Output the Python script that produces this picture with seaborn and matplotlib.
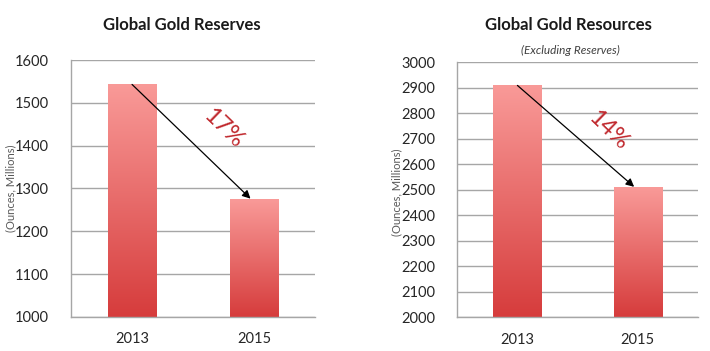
import numpy as np
import pandas as pd
import matplotlib.pyplot as plt
import matplotlib.colors as mcolors
import seaborn as sns

# data
years = ["2013", "2015"]
reserves = [1543, 1275]
resources = [2910, 2510]
reserve_drop = "17%"
resource_drop = "14%"

sns.set_style("white")
plt.rcParams["font.family"] = ["Lato", "DejaVu Sans"]

GRID = "#a6a6a6"
TOP_COL = "#f99a98"
BOTTOM_COL = "#d63c3c"


def gradient_bars(ax, floor):
    """Replace flat bar fill with a vertical light-to-dark gradient."""
    cmap = mcolors.LinearSegmentedColormap.from_list("bar", [BOTTOM_COL, TOP_COL])
    grad = np.linspace(0, 1, 256).reshape(-1, 1)
    for p in list(ax.patches):
        x0, w = p.get_x(), p.get_width()
        top = p.get_y() + p.get_height()
        bottom = max(p.get_y(), floor)
        p.set_facecolor("none")
        p.set_edgecolor("none")
        ax.imshow(grad, cmap=cmap, origin="lower", aspect="auto",
                  extent=[x0, x0 + w, bottom, top], zorder=2)


def draw_panel(ax, values, ylim, step, label):
    df = pd.DataFrame({"year": years, "value": values})
    sns.barplot(data=df, x="year", y="value", ax=ax, width=0.4, zorder=2)
    gradient_bars(ax, ylim[0])
    ax.set_ylim(*ylim)
    ax.set_xlim(-0.5, 1.5)
    ax.set_yticks(np.arange(ylim[0], ylim[1] + 1, step))

    ax.yaxis.grid(True, color=GRID, linewidth=1.0, zorder=0)
    ax.set_axisbelow(True)
    for s in ["top", "right"]:
        ax.spines[s].set_visible(False)
    for s in ["left", "bottom"]:
        ax.spines[s].set_color(GRID)
        ax.spines[s].set_linewidth(1.0)
    ax.tick_params(axis="both", length=0, labelsize=10.5, colors="#262626")
    ax.tick_params(axis="y", pad=16)
    ax.tick_params(axis="x", pad=11)
    ax.set_xlabel("")
    ax.set_ylabel("")

    # arrow between bar tops with percentage drop
    span = ylim[1] - ylim[0]
    ax.annotate("", xy=(0.97, values[1] + span * 0.002), xytext=(0.0, values[0]),
                arrowprops=dict(arrowstyle="-|>", color="black", lw=0.9,
                                mutation_scale=12, shrinkA=0, shrinkB=0),
                zorder=5)
    ax.text(0.75, ylim[1] - span * 0.265, label, color="#c0282d", fontsize=17,
            rotation=-44, ha="center", va="center", rotation_mode="anchor", zorder=6)


fig = plt.figure(figsize=(7.1, 3.51), dpi=100)
ax1 = fig.add_axes([0.100, 0.097, 0.344, 0.732])
ax2 = fig.add_axes([0.644, 0.096, 0.339, 0.726])

draw_panel(ax1, reserves, (1000, 1600), 100, reserve_drop)
draw_panel(ax2, resources, (2000, 3000), 100, resource_drop)

fig.text(0.256, 0.929, "Global Gold Reserves", ha="center", va="center",
         fontsize=12, fontweight="bold", color="#1a1a1a")
fig.text(0.800, 0.929, "Global Gold Resources", ha="center", va="center",
         fontsize=12, fontweight="bold", color="#1a1a1a")
fig.text(0.803, 0.857, "(Excluding Reserves)", ha="center", va="center",
         fontsize=8.5, fontstyle="italic", color="#404040")

fig.text(0.015, 0.463, "(Ounces, Millions)", rotation=90, ha="center", va="center",
         fontsize=8, color="#595959")
fig.text(0.559, 0.452, "(Ounces, Millions)", rotation=90, ha="center", va="center",
         fontsize=8, color="#595959")

fig.savefig("out.png", dpi=100, facecolor="white")
